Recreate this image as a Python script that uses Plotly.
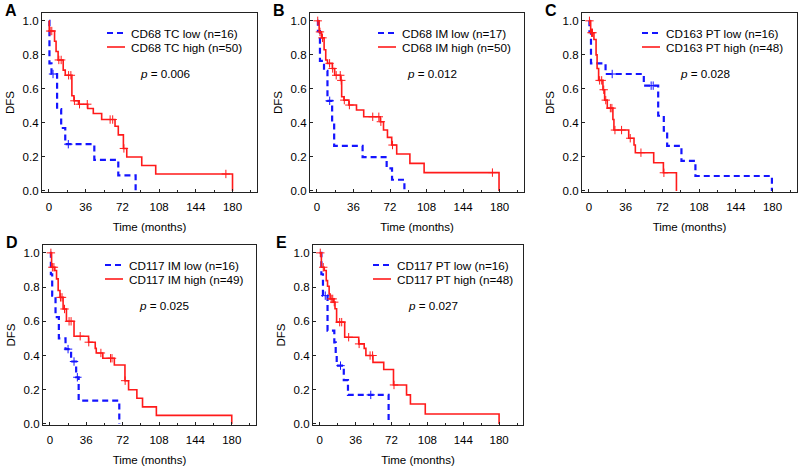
import plotly.graph_objects as go

# ---------------- data ----------------
panel_letters = ["A", "B", "C", "D", "E"]
legend_low = ["CD68 TC low (n=16)", "CD68 IM low (n=17)", "CD163 PT low (n=16)",
              "CD117 IM low (n=16)", "CD117 PT low (n=16)"]
legend_high = ["CD68 TC high (n=50)", "CD68 IM high (n=50)", "CD163 PT high (n=48)",
               "CD117 IM high (n=49)", "CD117 PT high (n=48)"]
p_values = ["0.006", "0.012", "0.028", "0.025", "0.027"]

x_ticks = [0, 36, 72, 108, 144, 180]
y_ticks = [0.0, 0.2, 0.4, 0.6, 0.8, 1.0]

# Panel A
a_low_time = [0.5, 2.5, 8, 12, 16, 44.5, 68, 85]
a_low_surv = [0.75, 0.6875, 0.481, 0.37, 0.275, 0.183, 0.092, 0.0]
a_low_cens = [4, 19]
a_high_time = [0.3, 5.5, 7, 9, 14, 16, 22.5, 24.5, 29, 38, 43.5, 51.7, 64.8, 68, 73, 76.3, 91, 104.7, 180]
a_high_surv = [0.94, 0.88, 0.82, 0.77, 0.71, 0.68, 0.56, 0.53, 0.51, 0.485, 0.455, 0.42, 0.38, 0.33,
               0.25, 0.20, 0.15, 0.10, 0.0]
a_high_cens = [1.2, 2.8, 9.7, 12, 19.3, 21.5, 25, 30, 37.6, 60, 62.5, 73.5, 173.5]

# Panel B
b_low_time = [1, 3, 7, 10.4, 15, 17, 45, 68.7, 74, 86.2]
b_low_surv = [0.94, 0.765, 0.706, 0.53, 0.40, 0.265, 0.199, 0.133, 0.066, 0.0]
b_low_cens = [12.6]
b_high_time = [2.2, 4.5, 7.1, 8.7, 10.4, 15.2, 17.5, 23.4, 24.4, 26.6, 31.5, 39, 46.1, 62.4, 65.6,
               69.5, 73.7, 78.6, 91.6, 105.6, 179.4]
b_high_surv = [0.935, 0.90, 0.83, 0.77, 0.75, 0.72, 0.68, 0.65, 0.554, 0.534, 0.505, 0.476, 0.436,
               0.407, 0.358, 0.315, 0.27, 0.217, 0.162, 0.108, 0.0]
b_high_cens = [0.8, 3, 5.5, 12.5, 15.5, 19, 23, 24, 27, 32, 55, 61, 63, 74.5, 172.9]

# Panel C
c_low_time = [0.5, 2, 16.3, 53.8, 67.9, 73.4, 76.7, 90.7, 104.4, 179.4]
c_low_surv = [0.9375, 0.75, 0.6875, 0.619, 0.442, 0.354, 0.265, 0.177, 0.088, 0.0]
c_low_cens = [22.8, 61, 63]
c_high_time = [1.7, 4.9, 7, 8, 9.5, 13.7, 15.4, 18, 23.5, 24.5, 39, 44.2, 45.5, 63.5, 73, 85.8]
c_high_surv = [0.93, 0.89, 0.80, 0.72, 0.65, 0.595, 0.534, 0.487, 0.42, 0.358, 0.31, 0.27, 0.225,
               0.166, 0.107, 0.0]
c_high_cens = [0.5, 2.5, 3.5, 10.5, 12.5, 14.5, 16.5, 21, 22.5, 25.5, 32, 40.5, 51, 73.5]

# Panel D
d_low_time = [1, 2.3, 5.6, 8.9, 15.5, 21, 26, 28.5, 68.7]
d_low_surv = [0.875, 0.75, 0.625, 0.5, 0.4375, 0.365, 0.273, 0.137, 0.0]
d_low_cens = [18, 23.9, 27.2]
d_high_time = [1.7, 4.9, 6.6, 8.2, 10, 13.1, 16.4, 23.9, 38.3, 44.9, 45.9, 52.4, 63.8, 74.3, 77.9,
               86.1, 91.7, 105.4, 180]
d_high_surv = [0.916, 0.897, 0.848, 0.78, 0.74, 0.672, 0.6, 0.513, 0.478, 0.442, 0.415, 0.384, 0.345,
               0.253, 0.2, 0.15, 0.1, 0.05, 0.0]
d_high_cens = [1, 2.5, 4, 10.5, 12, 14.5, 19, 21, 30, 38.5, 50.5, 60, 61.5, 74.5]

# Panel E
e_low_time = [1.6, 3.2, 7.8, 14.6, 16, 17, 24.1, 28.3, 69.1]
e_low_surv = [0.875, 0.75, 0.545, 0.477, 0.409, 0.341, 0.256, 0.17, 0.0]
e_low_cens = [5.5, 20.8, 51.2]
e_high_time = [1.6, 4.5, 6.5, 7.8, 9.4, 10.4, 13.7, 15.3, 16.9, 25, 39.1, 44.6, 46.3, 53.4, 64.2,
               74, 87.1, 91, 105.9, 180]
e_high_surv = [0.916, 0.897, 0.838, 0.805, 0.76, 0.731, 0.712, 0.673, 0.595, 0.507, 0.468, 0.442,
               0.4, 0.36, 0.318, 0.228, 0.17, 0.117, 0.058, 0.0]
e_high_cens = [0.5, 3.5, 11.5, 13, 14.5, 20, 22, 29, 39.5, 50.5, 53, 74.5]

low_curves = [(a_low_time, a_low_surv, a_low_cens), (b_low_time, b_low_surv, b_low_cens),
              (c_low_time, c_low_surv, c_low_cens), (d_low_time, d_low_surv, d_low_cens),
              (e_low_time, e_low_surv, e_low_cens)]
high_curves = [(a_high_time, a_high_surv, a_high_cens), (b_high_time, b_high_surv, b_high_cens),
               (c_high_time, c_high_surv, c_high_cens), (d_high_time, d_high_surv, d_high_cens),
               (e_high_time, e_high_surv, e_high_cens)]

# ---------------- layout constants ----------------
W, H = 798, 468
boxes = [(42, 257, 13, 192), (310, 524, 13, 192), (582, 797, 13, 192),
         (43, 256, 245, 425), (313, 523, 245, 425)]
legend_x = [65, 68, 60, 62, 60]   # px from box left where legend line sample starts
BLUE = "#1515ff"
RED = "#ff1a1a"
FONT = "Arial, Liberation Sans, sans-serif"


def surv_at(times, surv, t):
    s = 1.0
    for ti, si in zip(times, surv):
        if ti <= t:
            s = si
    return s


fig = go.Figure()
annotations = []
shapes = []

for i in range(5):
    sfx = "" if i == 0 else str(i + 1)
    xa, ya = "x" + sfx, "y" + sfx
    for (times, surv, cens), color, dash, width in [
        (low_curves[i], BLUE, "6px,4px", 2.2),
        (high_curves[i], RED, "solid", 1.6),
    ]:
        fig.add_trace(go.Scatter(
            x=[0] + list(times), y=[1.0] + list(surv), mode="lines",
            line=dict(color=color, width=width, dash=dash, shape="hv"),
            xaxis=xa, yaxis=ya, showlegend=False, hoverinfo="skip"))
        fig.add_trace(go.Scatter(
            x=cens, y=[surv_at(times, surv, c) for c in cens], mode="markers",
            marker=dict(symbol="cross-thin", size=6, line=dict(color=color, width=1)),
            xaxis=xa, yaxis=ya, showlegend=False, hoverinfo="skip"))

    l, r, t, b = boxes[i]
    axis_common = dict(showline=True, mirror=True, linecolor="#222", linewidth=1.3,
                       showgrid=False, zeroline=False, ticks="inside", ticklen=3,
                       tickcolor="#222", automargin=False,
                       tickfont=dict(size=11.5, color="black", family=FONT))
    fig.layout["xaxis" + sfx] = dict(
        domain=[l / W, r / W], anchor=ya, range=[-6.8, 204], tickvals=x_ticks,
        ticklabelstandoff=4,
        minor=dict(dtick=18, tick0=0, ticks="inside", ticklen=2, tickcolor="#222"),
        title=dict(text="Time (months)", font=dict(size=11.5, color="black", family=FONT), standoff=10),
        **axis_common)
    fig.layout["yaxis" + sfx] = dict(
        domain=[1 - b / H, 1 - t / H], anchor=xa, range=[-0.006, 1.046], tickvals=y_ticks,
        tickformat=".1f",
        title=dict(text="DFS", font=dict(size=11.5, color="black", family=FONT), standoff=5),
        **axis_common)

    xd, yd = xa + " domain", ya + " domain"
    bw, bh = r - l, b - t
    rows = [(20, legend_low[i], BLUE, "6px,4px", 2.2),
            (34, legend_high[i], RED, "solid", 1.6)]
    sample_l = legend_x[i]
    for dy, label, color, dash, width in rows:
        yy = 1 - dy / bh
        shapes.append(dict(type="line", xref=xd, yref=yd, x0=sample_l / bw, x1=(sample_l + 18) / bw,
                           y0=yy, y1=yy, line=dict(color=color, width=width, dash=dash)))
        annotations.append(dict(xref=xd, yref=yd, x=(sample_l + 22) / bw, y=yy, text=label,
                                showarrow=False, xanchor="left", yanchor="middle",
                                font=dict(size=11.7, color="black", family=FONT)))
    annotations.append(dict(xref=xd, yref=yd, x=0.57, y=1 - 60 / bh,
                            text="<i>p</i> = " + p_values[i], showarrow=False,
                            xanchor="center", yanchor="middle",
                            font=dict(size=11.7, color="black", family=FONT)))
    annotations.append(dict(xref="paper", yref="paper", x=(l - 39) / W, y=1 - (t - 3) / H,
                            text="<b>" + panel_letters[i] + "</b>", showarrow=False,
                            xanchor="left", yanchor="middle",
                            font=dict(size=16, color="black", family=FONT)))

fig.update_layout(
    width=W, height=H, margin=dict(l=0, r=0, t=0, b=0),
    paper_bgcolor="white", plot_bgcolor="white",
    annotations=annotations, shapes=shapes, showlegend=False,
    font=dict(family=FONT, color="black"),
)

fig.write_html("out.html", config={"displayModeBar": False},
               post_script="document.body.style.margin='0';document.body.style.overflow='hidden';")
